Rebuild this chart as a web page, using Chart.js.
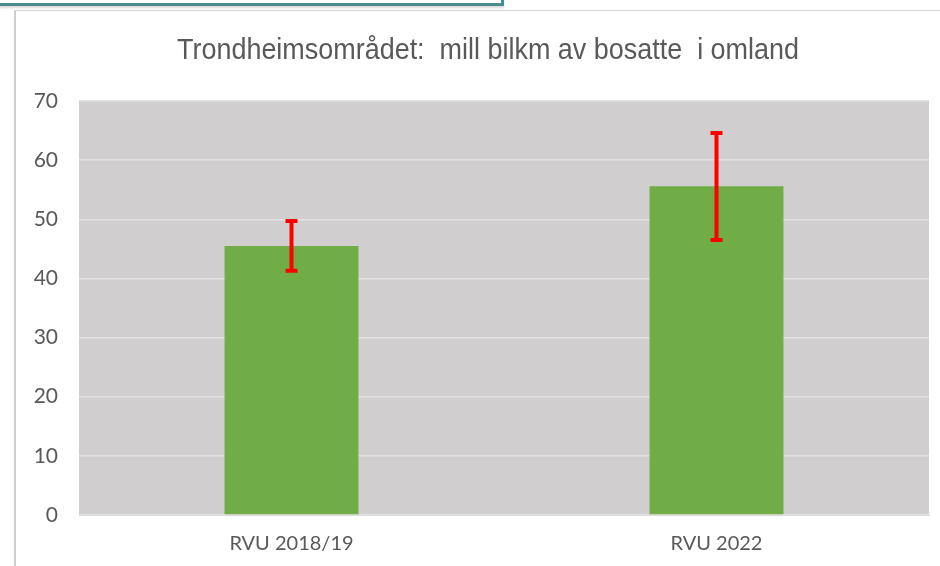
<!DOCTYPE html>
<html>
<head>
<meta charset="utf-8">
<script src="https://cdn.jsdelivr.net/npm/chart.js@4/dist/chart.umd.min.js"></script>
<style>
  html, body { margin: 0; padding: 0; background: #fff; }
  body { width: 940px; height: 566px; position: relative; overflow: hidden; }
  #frame { position: absolute; left: -4px; top: -4px; width: 505px; height: 7px; border: 3px solid #4a8b8d; border-top: none; border-left: none; box-shadow: 0 2px 2px rgba(0,0,0,0.15); }
  #edge { position: absolute; left: 14px; top: 10px; right: 0; bottom: 0; border-top: 1px solid #d4d4d4; border-left: 2px solid #cfcfcf; }
  canvas { position: absolute; left: 0; top: 0; }
</style>
</head>
<body>
<div id="edge"></div>
<div id="frame"></div>
<canvas id="c" width="940" height="566"></canvas>
<script>
const title = 'Trondheimsområdet:  mill bilkm av bosatte  i omland';
const categories = ['RVU 2018/19', 'RVU 2022'];
const values = [45.5, 55.6];
const errLow = [41.3, 46.5];
const errHigh = [49.7, 64.6];
const yTicks = [0, 10, 20, 30, 40, 50, 60, 70];

const plotBg = {
  id: 'plotBg',
  beforeDraw(chart) {
    const a = chart.chartArea, ctx = chart.ctx;
    ctx.save();
    ctx.fillStyle = '#d0cece';
    ctx.fillRect(a.left, a.top, a.right - a.left, a.bottom - a.top);
    ctx.restore();
  }
};

// narrow title: no condensed font installed, so squeeze Liberation Sans horizontally
const narrowTitle = {
  id: 'narrowTitle',
  afterDraw(chart) {
    const ctx = chart.ctx, a = chart.chartArea;
    ctx.save();
    ctx.font = '30px "Liberation Sans", Arial, sans-serif';
    ctx.fillStyle = '#595959';
    ctx.textBaseline = 'alphabetic';
    const w = ctx.measureText(title).width;
    const sx = 622 / w;
    const cx = (a.left + a.right) / 2 - 16;
    ctx.translate(cx - 622 / 2, 59);
    ctx.scale(sx, 1);
    ctx.fillText(title, 0, 0);
    ctx.restore();
  }
};

const errorBars = {
  id: 'errorBars',
  afterDatasetsDraw(chart) {
    const ctx = chart.ctx, y = chart.scales.y;
    const meta = chart.getDatasetMeta(0);
    ctx.save();
    ctx.strokeStyle = '#ff0000';
    ctx.lineWidth = 4;
    meta.data.forEach((bar, i) => {
      const x = bar.x, t = y.getPixelForValue(errHigh[i]), b = y.getPixelForValue(errLow[i]);
      ctx.beginPath();
      ctx.moveTo(x, t); ctx.lineTo(x, b);
      ctx.moveTo(x - 6, t); ctx.lineTo(x + 6, t);
      ctx.moveTo(x - 6, b); ctx.lineTo(x + 6, b);
      ctx.stroke();
    });
    ctx.restore();
  }
};

new Chart(document.getElementById('c'), {
  type: 'bar',
  data: {
    labels: categories,
    datasets: [{
      data: values,
      backgroundColor: '#70ad47',
      categoryPercentage: 1,
      barPercentage: 0.315
    }]
  },
  options: {
    responsive: false,
    animation: false,
    layout: { padding: { left: 15, right: 11, top: 101, bottom: 0 } },
    plugins: {
      legend: { display: false },
      tooltip: { enabled: false },
      title: { display: false }
    },
    scales: {
      x: {
        grid: { display: false, drawTicks: false },
        border: { display: true, color: '#d9d9d9', width: 1 },
        ticks: { color: '#595959', font: { family: 'Lato', size: 20 }, padding: 17 },
        afterFit(s) { s.height = 51; }
      },
      y: {
        min: 0, max: 70,
        afterBuildTicks(s) { s.ticks = yTicks.map(v => ({ value: v })); },
        grid: { color: '#e2e2e2', lineWidth: 1.5, drawTicks: false },
        border: { display: false },
        ticks: { color: '#595959', font: { family: 'Lato', size: 21 }, padding: 21 },
        afterFit(s) { s.width = 64; }
      }
    }
  },
  plugins: [plotBg, errorBars, narrowTitle]
});
</script>
</body>
</html>
